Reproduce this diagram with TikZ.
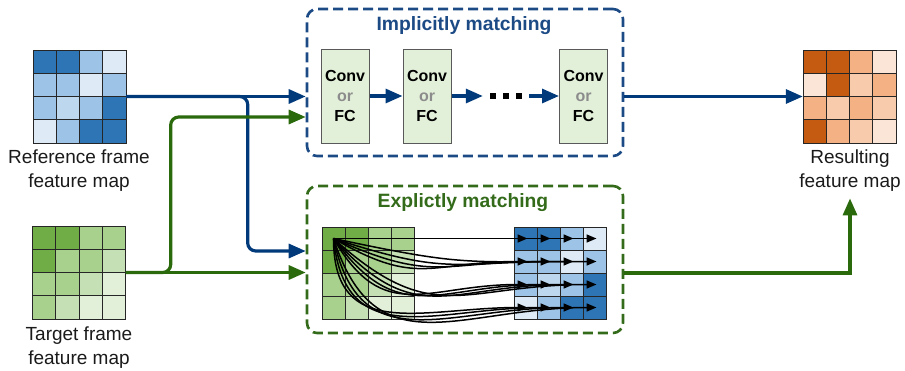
\documentclass[tikz,border=0pt]{standalone}
\usepackage{fontspec}
\setmainfont{Liberation Sans}
\usetikzlibrary{arrows.meta,calc}

% feature-map palettes
\definecolor{bD}{HTML}{2E75B6}
\definecolor{bL}{HTML}{9DC3E6}
\definecolor{bM}{HTML}{BDD7EE}
\definecolor{bV}{HTML}{DEEBF7}
\definecolor{gD}{HTML}{70AD47}
\definecolor{gL}{HTML}{A9D18E}
\definecolor{gM}{HTML}{C5E0B4}
\definecolor{gV}{HTML}{E2F0D9}
\definecolor{oD}{HTML}{C55A11}
\definecolor{oL}{HTML}{F4B183}
\definecolor{oM}{HTML}{F8CBAD}
\definecolor{oV}{HTML}{FBE5D6}
% lines and text
\definecolor{navyline}{HTML}{003A7A}
\definecolor{navybox}{HTML}{1C4A85}
\definecolor{greenline}{HTML}{2A6A0C}
\definecolor{greenbox}{HTML}{336B1A}
\definecolor{textc}{HTML}{1A1A1A}
\definecolor{orgray}{HTML}{8C8C8C}
\definecolor{convfill}{HTML}{E2F0D9}

% #1 name, #2 left, #3 top, #4 cell size, #5 rows of colours
\newcommand\featmap[5]{%
  \foreach \rowcols [count=\r] in {#5} {
    \foreach \cc [count=\k] in \rowcols {
      \node[cell, minimum size=#4pt, fill=\cc] (#1-\r-\k)
        at ({#2+(\k-0.5)*#4}, {-#3-(\r-0.5)*#4}) {};
    }
  }%
}

\begin{document}
\begin{tikzpicture}[x=1pt, y=1pt,
  cell/.style={draw=black!85, line width=0.8pt, inner sep=0pt},
  gridbox/.style={inner sep=0pt, minimum size=93pt},
  lbl/.style={align=center, text=textc, font=\fontsize{19}{24}\selectfont},
  title/.style={font=\bfseries\fontsize{19.3}{22}\selectfont},
  dashbox/.style={draw=#1, dashed, dash pattern=on 10pt off 5pt, line width=2.6pt,
    rounded corners=10pt, minimum width=316pt, minimum height=147pt, inner sep=0pt},
  convbox/.style={draw=black!65, line width=1pt, fill=convfill, minimum width=48pt,
    minimum height=94pt, inner sep=0pt, align=center, text=black,
    font=\bfseries\fontsize{16}{20}\selectfont},
  bigarrow/.style={line width=3.2pt, -{Triangle[length=17pt,width=14pt]}},
  bluearrow/.style={bigarrow, draw=navyline, color=navyline},
  greenarrow/.style={bigarrow, draw=greenline, color=greenline},
  match/.style={line width=1.5pt, draw=black, -{Triangle[length=10pt,width=8pt]}}
]
\useasboundingbox (0,0) rectangle (905,-370);

% ---------- input and output feature maps ----------
\node[gridbox] (ref) at (79.5,-96.5) {};
\featmap{rf}{33}{50}{23.25}{{bD,bD,bL,bV},{bL,bL,bV,bL},{bL,bM,bL,bD},{bV,bL,bD,bD}}
\node[lbl] (reflab) at (79,-171) {Reference frame\\feature map};

\node[gridbox] (tgt) at (79,-272.5) {};
\featmap{tf}{32.5}{226}{23.25}{{gD,gD,gL,gL},{gD,gL,gL,gM},{gL,gL,gM,gV},{gL,gM,gV,gV}}
\node[lbl] (tgtlab) at (79,-348) {Target frame\\feature map};

\node[gridbox] (res) at (849.5,-96.5) {};
\featmap{rs}{803}{50}{23.25}{{oD,oD,oL,oV},{oV,oD,oM,oL},{oL,oM,oL,oM},{oD,oL,oM,oV}}
\node[lbl] (reslab) at (850,-171) {Resulting\\feature map};

% ---------- implicit branch ----------
\node[dashbox=navybox] (imp) at (465,-82.5) {};
\node[title, text=navybox] (impt) at (464,-26) {Implicitly matching};
\node[convbox] (c1) at (345,-96) {Conv\\\textcolor{orgray}{or}\\FC};
\node[convbox] (c2) at (427,-96) {Conv\\\textcolor{orgray}{or}\\FC};
\node[convbox] (c3) at (583.5,-96) {Conv\\\textcolor{orgray}{or}\\FC};
\node[inner sep=0pt, minimum width=46pt, minimum height=6pt] (dots) at (506,-96) {};
\foreach \dx in {-13,0,13}
  \fill[black] ([xshift=\dx pt]dots.center) +(-2.6,-2.6) rectangle +(2.6,2.6);

\draw[bluearrow] (c1) -- (c2);
\draw[bluearrow] (c2) -- (dots);
\draw[bluearrow] (dots) -- (c3);
\draw[bluearrow] (imp.east |- res.west) -- (res.west);

% ---------- explicit branch ----------
\node[dashbox=greenbox] (exp) at (465,-259.5) {};
\node[title, text=greenbox] (expt) at (463,-203) {Explictly matching};
\featmap{eg}{322}{227}{23}{{gD,gD,gL,gL},{gD,gL,gL,gM},{gL,gL,gM,gV},{gL,gM,gV,gV}}
\featmap{eb}{514}{227}{23}{{bD,bD,bL,bV},{bL,bL,bV,bL},{bL,bM,bL,bD},{bV,bL,bD,bD}}

\foreach \c in {1,...,4}
  \draw[match] (eg-1-1.center) -- ([xshift=2pt]eb-1-\c.center);
\foreach \r in {2,3,4}
  \foreach \c in {1,...,4} {
    \pgfmathsetmacro\ang{-(30*(\r-1)-6*(\c-1))}
    \draw[match] (eg-1-1.center) to[out=\ang, in=180, looseness=1.3]
      ([xshift=2pt]eb-\r-\c.center);
  }

\draw[greenarrow] ([yshift=-13.5pt]exp.east) -| ([yshift=-3pt]reslab.south);

% ---------- connections from the inputs ----------
\draw[bluearrow] (ref.east) -- (ref.east -| imp.west);
\draw[bluearrow, rounded corners=8pt] (ref.east) -| ($(exp.west)+(-58,8.5)$)
  -- ([yshift=8.5pt]exp.west);
\draw[greenarrow] (tgt.east) -- (tgt.east -| exp.west);
\draw[greenarrow, rounded corners=8pt] (tgt.east) -| ($(imp.west)+(-135,-34.5)$)
  -- ([yshift=-34.5pt]imp.west);
\end{tikzpicture}
\end{document}
